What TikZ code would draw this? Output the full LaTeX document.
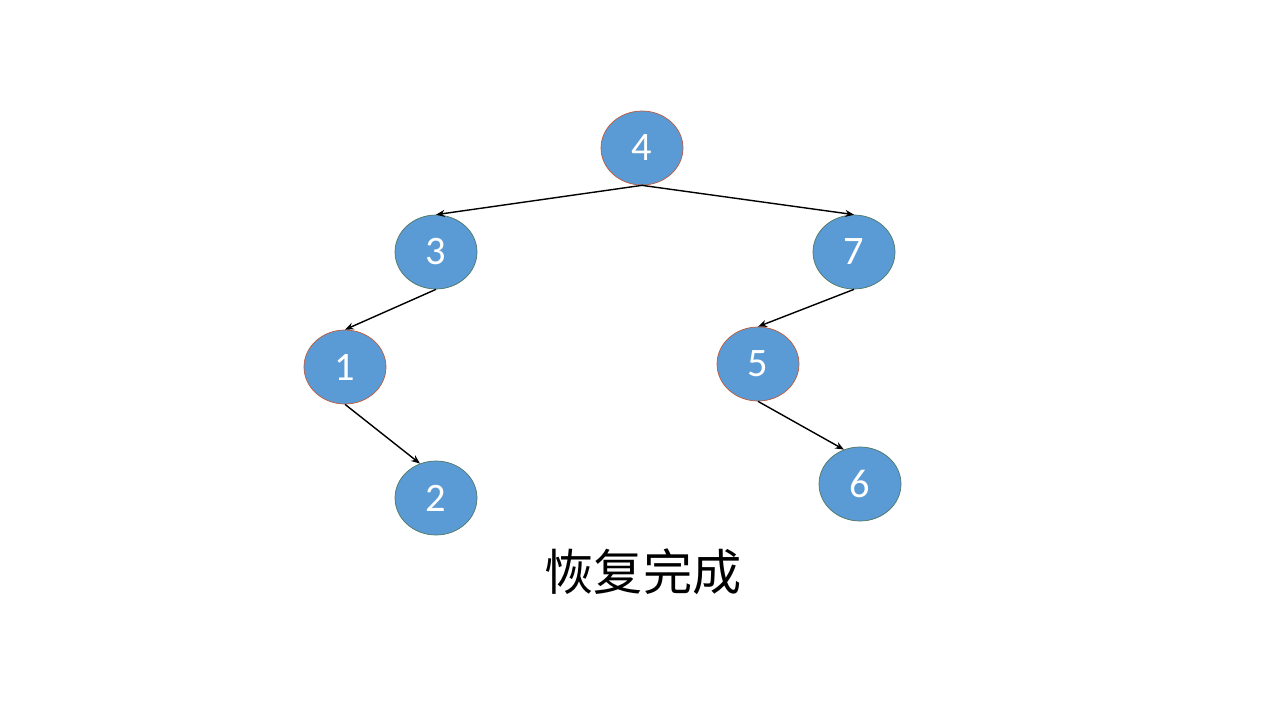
\documentclass[tikz,border=0pt]{standalone}
\usepackage{fontspec}
\setmainfont{Carlito}
\newfontfamily\cjk{Noto Sans CJK SC}
\usetikzlibrary{shapes.geometric,arrows.meta}
\begin{document}
\begin{tikzpicture}[x=0.02cm,y=-0.02cm,
  tn/.style={ellipse,fill={rgb,255:red,91;green,155;blue,213},draw={rgb,255:red,80;green,120;blue,100},line width=0.4pt,
    minimum width=82*0.02cm,minimum height=74*0.02cm,inner sep=0pt,text=white,font=\fontsize{23}{23}\selectfont},
  ed/.style={-{Stealth[length=5pt,width=4pt]},line width=0.8pt}]
\useasboundingbox (0,0) rectangle (1280,720);
\node[tn,draw={rgb,255:red,190;green,90;blue,60}] (n4) at (642,148) {4};
\node[tn] (n3) at (436,252) {3};
\node[tn] (n7) at (854,252) {7};
\node[tn,draw={rgb,255:red,190;green,90;blue,60}] (n1) at (345,367) {1};
\node[tn,draw={rgb,255:red,190;green,90;blue,60}] (n5) at (758,364) {5};
\node[tn] (n2) at (436,498) {2};
\node[tn] (n6) at (860,484) {6};
\draw[ed] (n4.south) -- (n3.north);
\draw[ed] (n4.south) -- (n7.north);
\draw[ed] (n3.south) -- (n1.north);
\draw[ed] (n7.south) -- (n5.north);
\draw[ed] (n1.south) -- (n2.115);
\draw[ed] (n5.south) -- (n6.115);
\node[font=\cjk\fontsize{28}{28}\selectfont] (t) at (643,572) {恢复完成};
\end{tikzpicture}
\end{document}
